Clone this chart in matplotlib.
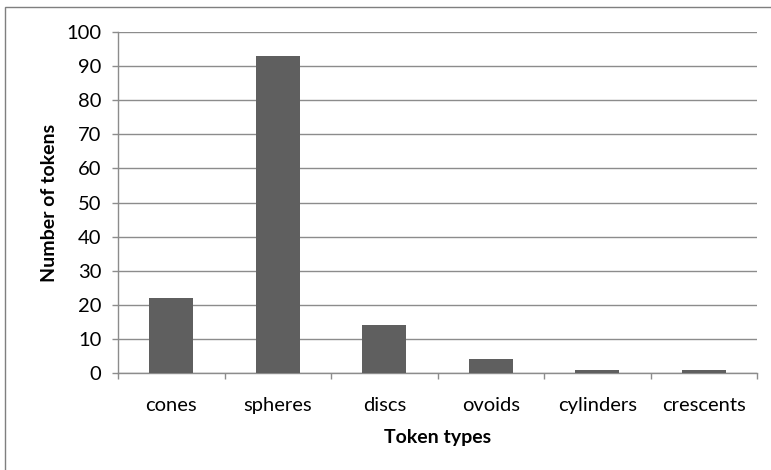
import matplotlib
matplotlib.use("Agg")
import matplotlib.pyplot as plt
from matplotlib.patches import Rectangle
import numpy as np

categories = ["cones", "spheres", "discs", "ovoids", "cylinders", "crescents"]
values = [22, 93, 14, 4, 1, 1]
yticks = list(range(0, 101, 10))

plt.rcParams['font.family'] = ['Lato', 'DejaVu Sans']

W, H = 771, 470
fig = plt.figure(figsize=(W / 100, H / 100), dpi=100)
ax = fig.add_axes([118 / W, (H - 373) / H, (757 - 118) / W, (373 - 32) / H])

x = np.arange(len(categories))
ax.bar(x, values, width=0.41, color="#5f5f5f", zorder=3)

ax.set_xlim(-0.5, len(categories) - 0.5)
ax.set_ylim(0, 100)
ax.set_yticks(yticks)
ax.yaxis.grid(True, color="#8c8c8c", linewidth=1.0, zorder=0)
ax.set_axisbelow(True)

ax.set_xticks(x)
ax.set_xticklabels(categories, fontsize=14.5, color="#000000")
ax.set_xticks(np.arange(-0.5, len(categories), 1.0), minor=True)
ax.tick_params(axis="x", which="major", length=0, pad=17)
ax.tick_params(axis="x", which="minor", length=4.5, width=1.0, color="#8c8c8c", direction="out")
ax.tick_params(axis="y", length=4.5, width=1.0, color="#8c8c8c", pad=7.5, labelsize=14.5)

for s in ["top", "right"]:
    ax.spines[s].set_visible(False)
for s in ["left", "bottom"]:
    ax.spines[s].set_color("#8c8c8c")
    ax.spines[s].set_linewidth(1.0)

ax.set_xlabel("Token types", fontsize=14, fontweight="bold", labelpad=11)
ax.set_ylabel("Number of tokens", fontsize=14, fontweight="bold", labelpad=6)

fig.patches.append(Rectangle((4.5 / W, -0.1), 1.2, (H - 6.5) / H + 0.1,
                             transform=fig.transFigure, fill=False,
                             edgecolor="#7f7f7f", linewidth=1.0))

fig.savefig("out.png", dpi=100)
